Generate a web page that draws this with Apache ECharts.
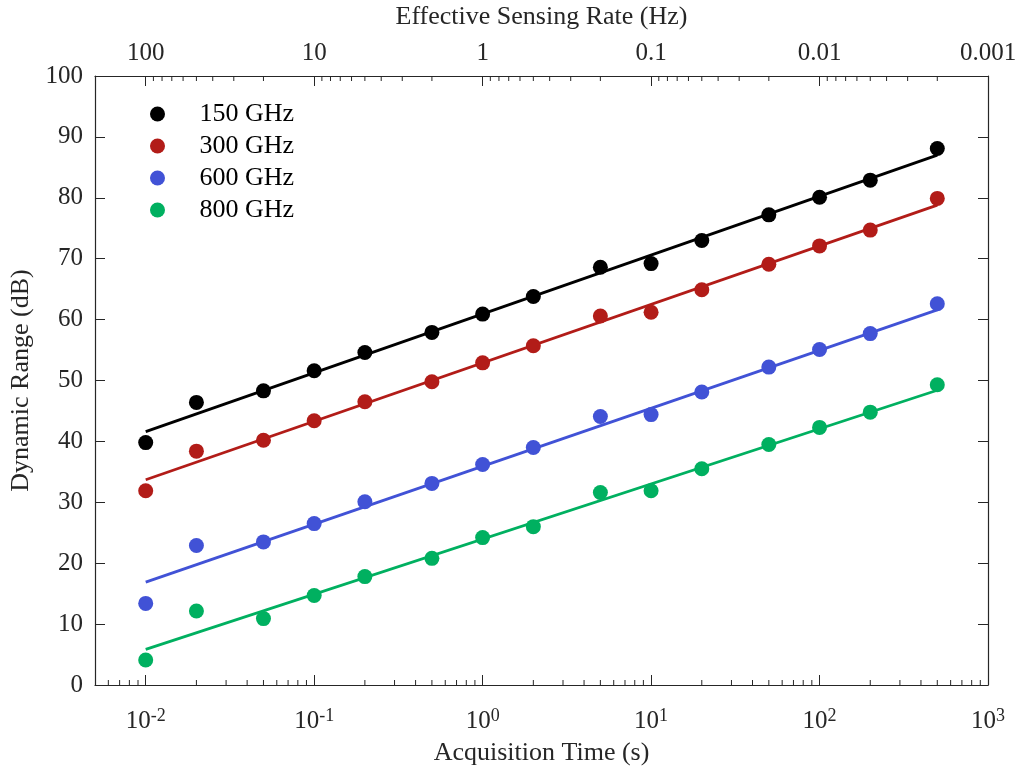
<!DOCTYPE html>
<html>
<head>
<meta charset="utf-8">
<script src="https://cdn.jsdelivr.net/npm/echarts@6/dist/echarts.min.js"></script>
<style>
html, body { margin: 0; padding: 0; background: #fff; }
#chart { width: 1017px; height: 767px; }
</style>
</head>
<body>
<div id="chart"></div>
<script>
var dom = document.getElementById("chart");
var chart = echarts.init(dom);

// acquisition times (s)
var times = [0.01, 0.02, 0.05, 0.1, 0.2, 0.5, 1, 2, 5, 10, 20, 50, 100, 200, 500];
var names = ['150 GHz', '300 GHz', '600 GHz', '800 GHz'];
var colors = ['#000000', '#B21C18', '#4152D6', '#00B060'];

// dynamic range (dB)
var dr150 = [39.8, 46.4, 48.3, 51.6, 54.6, 57.9, 60.9, 63.8, 68.6, 69.2, 73.0, 77.2, 80.1, 82.9, 88.1];
var dr300 = [31.9, 38.4, 40.2, 43.4, 46.5, 49.8, 52.9, 55.7, 60.6, 61.2, 64.9, 69.1, 72.1, 74.7, 79.9];
var dr600 = [13.4, 22.9, 23.5, 26.5, 30.1, 33.1, 36.2, 39.0, 44.1, 44.4, 48.1, 52.2, 55.1, 57.7, 62.6];
var dr800 = [4.1, 12.15, 10.9, 14.7, 17.8, 20.8, 24.2, 26.0, 31.6, 31.9, 35.5, 39.5, 42.3, 44.8, 49.3];

// fitted lines: [start, end] at 0.01 s and 500 s
var fitX = [0.01, 500];
var fit150 = [41.6, 87.0];
var fit300 = [33.7, 78.8];
var fit600 = [16.9, 61.6];
var fit800 = [5.85, 48.4];

// minor tick positions
var minorSteps = [2, 3, 4, 5, 6, 7, 8, 9];
var bottomDecades = [0.001, 0.01, 0.1, 1, 10, 100];
var topDecades = [0.001, 0.01, 0.1, 1, 10];

var allData = [dr150, dr300, dr600, dr800];
var allFits = [fit150, fit300, fit600, fit800];

function minorList(decades, lo, hi) {
	var out = [];
	decades.forEach(function (d) {
		minorSteps.forEach(function (k) {
			var v = k * d;
			if (v > lo * 1.0001 && v < hi / 1.0001) out.push([v]);
		});
	});
	return out;
}

var textColor = '#262626';
var font = '"Liberation Serif", "Times New Roman", serif';

function isPow10(v) {
	var l = Math.log10(v);
	return Math.abs(l - Math.round(l)) < 1e-6 ? Math.round(l) : null;
}

function minorTickSeries(xIdx, data, atTop) {
	return {
		type: 'custom',
		xAxisIndex: xIdx,
		yAxisIndex: 0,
		silent: true,
		clip: false,
		data: data,
		renderItem: function (params, api) {
			var p = api.coord([api.value(0), atTop ? 100 : 0]);
			var y2 = atTop ? p[1] + 5 : p[1] - 5;
			return {
				type: 'line',
				shape: { x1: p[0], y1: p[1], x2: p[0], y2: y2 },
				style: { stroke: textColor, lineWidth: 1 }
			};
		}
	};
}

var series = [];
allFits.forEach(function (f, i) {
	series.push({
		name: names[i] + ' fit',
		type: 'line',
		xAxisIndex: 0,
		yAxisIndex: 0,
		data: [[fitX[0], f[0]], [fitX[1], f[1]]],
		showSymbol: false,
		lineStyle: { color: colors[i], width: 2.8 },
		z: 2
	});
});
allData.forEach(function (d, i) {
	series.push({
		name: names[i],
		type: 'scatter',
		xAxisIndex: 0,
		yAxisIndex: 0,
		data: times.map(function (t, j) { return [t, d[j]]; }),
		symbol: 'circle',
		symbolSize: 15,
		itemStyle: { color: colors[i], opacity: 1 },
		z: 3
	});
});
series.push(minorTickSeries(0, minorList(bottomDecades, 0.005, 1000), false));
series.push(minorTickSeries(1, minorList(topDecades, 0.001, 200), true));

var option = {
	animation: false,
	color: colors,
	textStyle: { fontFamily: font },
	grid: { left: 95, right: 29, top: 76, bottom: 82, outerBoundsMode: 'none', containLabel: false },
	legend: {
		data: names,
		orient: 'vertical',
		left: 145,
		top: 96,
		icon: 'circle',
		itemWidth: 74,
		itemHeight: 15,
		itemGap: 6,
		textStyle: { fontFamily: font, fontSize: 26, color: '#000' }
	},
	xAxis: [
		{
			type: 'log',
			min: 0.005,
			max: 1000,
			position: 'bottom',
			name: 'Acquisition Time (s)',
			nameLocation: 'middle',
			nameGap: 55,
			nameTextStyle: { fontFamily: font, fontSize: 26, color: textColor },
			axisLine: { onZero: false, lineStyle: { color: textColor, width: 1.2 } },
			axisTick: { inside: true, length: 10, lineStyle: { color: textColor } },
			splitLine: { show: false },
			axisLabel: {
				margin: 22,
				color: textColor,
				formatter: function (v) {
					var p = isPow10(v);
					return p === null ? '' : '{b|10}{s|' + p + '}';
				},
				rich: {
					b: { fontFamily: font, fontSize: 25, color: textColor, lineHeight: 28 },
					s: { fontFamily: font, fontSize: 18, color: textColor, lineHeight: 18, verticalAlign: 'top' }
				}
			}
		},
		{
			type: 'log',
			min: 0.001,
			max: 200,
			inverse: true,
			position: 'top',
			name: 'Effective Sensing Rate (Hz)',
			nameLocation: 'middle',
			nameGap: 46,
			nameTextStyle: { fontFamily: font, fontSize: 26, color: textColor },
			axisLine: { onZero: false, lineStyle: { color: textColor, width: 1.2 } },
			axisTick: { inside: true, length: 10, lineStyle: { color: textColor } },
			splitLine: { show: false },
			axisLabel: {
				margin: 10,
				fontFamily: font,
				fontSize: 25,
				color: textColor,
				formatter: function (v) {
					var p = isPow10(v);
					if (p === null) return '';
					return p >= 0 ? String(Math.pow(10, p)) : (Math.pow(10, p)).toFixed(-p);
				}
			}
		}
	],
	yAxis: [
		{
			type: 'value',
			min: 0,
			max: 100,
			interval: 10,
			position: 'left',
			name: 'Dynamic Range (dB)',
			nameLocation: 'middle',
			nameGap: 56,
			nameTextStyle: { fontFamily: font, fontSize: 26, color: textColor },
			axisLine: { show: true, onZero: false, lineStyle: { color: textColor, width: 1.2 } },
			axisTick: { show: true, inside: true, length: 10, lineStyle: { color: textColor } },
			splitLine: { show: false },
			axisLabel: { margin: 12, fontFamily: font, fontSize: 25, color: textColor }
		},
		{
			type: 'value',
			min: 0,
			max: 100,
			interval: 10,
			position: 'right',
			axisLine: { show: true, onZero: false, lineStyle: { color: textColor, width: 1.2 } },
			axisTick: { show: true, inside: true, length: 10, lineStyle: { color: textColor } },
			splitLine: { show: false },
			axisLabel: { show: false }
		}
	],
	series: series
};

chart.setOption(option, true);
</script>
</body>
</html>
